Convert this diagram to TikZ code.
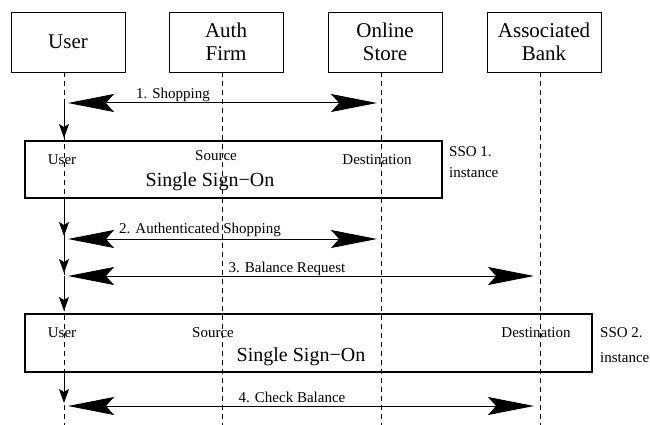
\documentclass[tikz,border=0pt]{standalone}
\usepackage{fontspec}
\setmainfont{Liberation Serif}
\usetikzlibrary{arrows.meta}
\begin{document}
\begin{tikzpicture}[x=1pt,y=-1pt,
  hdr/.style={draw, line width=0.9pt, minimum width=114pt, minimum height=60pt,
    align=center, font=\fontsize{21}{23}\selectfont, inner sep=0pt},
  ssobox/.style={draw, line width=2pt, inner sep=0pt},
  lbl/.style={font=\fontsize{15}{18}\selectfont, inner sep=0pt, anchor=base},
  bigtext/.style={font=\fontsize{20}{24}\selectfont, inner sep=0pt, anchor=base},
  lifeline/.style={line width=0.8pt, dash pattern=on 5pt off 4pt},
  bighead/.tip={Stealth[length=46pt,width=18pt,inset=8pt]},
  msg/.style={line width=1pt, bighead-bighead, shorten <=4pt, shorten >=4pt},
  down/.style={line width=1pt, -{Stealth[length=14pt,width=10pt,inset=3pt]}}]

\useasboundingbox (0,0) rectangle (650,425);

% participants
\node[hdr] (user)  at (68,42)  {User};
\node[hdr] (auth)  at (226,42) {Auth\\Firm};
\node[hdr] (store) at (385,42) {Online\\Store};
\node[hdr] (bank)  at (544,42) {Associated\\Bank};

% reference points
\coordinate (bot) at (0,425);
\coordinate (y1) at (0,103);
\coordinate (y2) at (0,239);
\coordinate (y3) at (0,276);
\coordinate (y4) at (0,406);

% lifelines
\foreach \n in {user,auth,store,bank}{
  \coordinate (\n-l) at ([xshift=-4pt]\n.south);
  \draw[lifeline] (\n-l) -- (\n-l |- bot);
}

% single sign-on instances
\node[ssobox, minimum width=417pt, minimum height=57pt] (sso1) at (233.5,169.5) {};
\node[lbl] (s1u) at (62,164)  {User};
\node[lbl] (s1s) at (216,160) {Source};
\node[lbl] (s1d) at (377,164) {Destination};
\node[bigtext] (s1t) at (210,186) {Single Sign−On};
\node[lbl, anchor=base west] (s1a) at (449,157) {SSO 1.};
\node[lbl, anchor=base west] (s1b) at (449,177) {instance};

\node[ssobox, minimum width=567pt, minimum height=58pt] (sso2) at (308.5,343) {};
\node[lbl] (s2u) at (62,337)  {User};
\node[lbl] (s2s) at (213,337) {Source};
\node[lbl] (s2d) at (536,337) {Destination};
\node[bigtext] (s2t) at (301,361) {Single Sign−On};
\node[lbl, anchor=base west] (s2a) at (600,337) {SSO 2.};
\node[lbl, anchor=base west] (s2b) at (600,362) {instance};

% messages
\draw[msg] (user-l |- y1) -- (store-l |- y1);
\node[lbl] (m1) at (173,99) {1. Shopping};
\draw[msg] (user-l |- y2) -- (store-l |- y2);
\node[lbl] (m2) at (200,233) {2. Authenticated Shopping};
\draw[msg, shorten >=6pt] (user-l |- y3) -- (bank-l |- y3);
\node[lbl] (m3) at (287,272) {3. Balance Request};
\draw[msg, shorten >=6pt] (user-l |- y4) -- (bank-l |- y4);
\node[lbl] (m4) at (292,402) {4. Check Balance};

% user control flow
\draw[down, shorten >=2pt] (user-l |- y1) -- (user-l |- sso1.north);
\draw[down, shorten >=3pt] (user-l |- sso1.south) -- (user-l |- y2);
\draw[down, shorten >=3pt] (user-l |- y2) -- (user-l |- y3);
\draw[down, shorten >=2pt] (user-l |- y3) -- (user-l |- sso2.north);
\draw[down, shorten >=3pt] (user-l |- sso2.south) -- (user-l |- y4);
\end{tikzpicture}
\end{document}
